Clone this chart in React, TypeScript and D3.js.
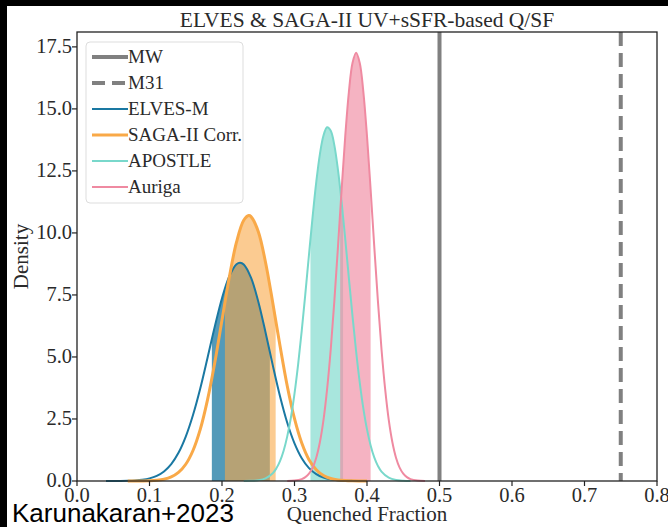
import React from "react";
import * as d3 from "d3";

// density curves (x = quenched fraction, y = density)
const elvesX = [0.04, 0.05, 0.06, 0.07, 0.08, 0.09, 0.1, 0.11, 0.12, 0.13, 0.14, 0.15, 0.16, 0.17, 0.18, 0.19, 0.2, 0.21, 0.22, 0.225, 0.23, 0.24, 0.25, 0.26, 0.27, 0.28, 0.29, 0.3, 0.31, 0.32, 0.33, 0.34, 0.35, 0.36, 0.37, 0.38, 0.4];
const elvesY = [0.0005, 0.0015, 0.004, 0.01, 0.023, 0.05, 0.105, 0.207, 0.386, 0.68, 1.135, 1.79, 2.66, 3.73, 4.96, 6.22, 7.37, 8.25, 8.74, 8.8, 8.73, 8.2, 7.24, 6.0, 4.67, 3.42, 2.35, 1.52, 0.92, 0.52, 0.28, 0.14, 0.067, 0.03, 0.012, 0.005, 0.001];

const sagaX = [0.07, 0.08, 0.09, 0.1, 0.11, 0.12, 0.13, 0.14, 0.15, 0.16, 0.17, 0.18, 0.19, 0.2, 0.21, 0.22, 0.23, 0.237, 0.24, 0.25, 0.26, 0.27, 0.28, 0.29, 0.3, 0.31, 0.32, 0.33, 0.34, 0.35, 0.36, 0.37, 0.38, 0.39, 0.4];
const sagaY = [0.0004, 0.0013, 0.004, 0.011, 0.03, 0.072, 0.164, 0.345, 0.675, 1.23, 2.08, 3.27, 4.77, 6.49, 8.2, 9.63, 10.51, 10.7, 10.66, 10.06, 8.82, 7.19, 5.45, 3.83, 2.51, 1.53, 0.86, 0.455, 0.22, 0.1, 0.043, 0.017, 0.006, 0.002, 0.0007];

const apostleX = [0.23, 0.24, 0.25, 0.26, 0.27, 0.275, 0.28, 0.285, 0.29, 0.295, 0.3, 0.305, 0.31, 0.315, 0.32, 0.325, 0.33, 0.335, 0.34, 0.345, 0.35, 0.355, 0.36, 0.365, 0.37, 0.375, 0.38, 0.385, 0.39, 0.395, 0.4, 0.405, 0.41, 0.415, 0.42, 0.43, 0.44, 0.45, 0.46];
const apostleY = [0.002, 0.008, 0.032, 0.107, 0.314, 0.51, 0.8, 1.22, 1.8, 2.55, 3.52, 4.7, 6.06, 7.56, 9.13, 10.66, 12.05, 13.17, 13.93, 14.26, 14.12, 13.53, 12.53, 11.24, 9.75, 8.18, 6.65, 5.22, 3.97, 2.92, 2.08, 1.43, 0.95, 0.61, 0.38, 0.134, 0.041, 0.011, 0.003];

const aurigaX = [0.29, 0.3, 0.31, 0.315, 0.32, 0.325, 0.33, 0.335, 0.34, 0.345, 0.35, 0.355, 0.36, 0.365, 0.37, 0.375, 0.38, 0.385, 0.39, 0.395, 0.4, 0.405, 0.41, 0.415, 0.42, 0.425, 0.43, 0.435, 0.44, 0.445, 0.45, 0.455, 0.46, 0.47, 0.48];
const aurigaY = [0.003, 0.017, 0.077, 0.156, 0.297, 0.54, 0.94, 1.56, 2.46, 3.71, 5.31, 7.27, 9.46, 11.75, 13.9, 15.68, 16.85, 17.26, 16.85, 15.68, 13.9, 11.75, 9.46, 7.27, 5.31, 3.71, 2.46, 1.56, 0.94, 0.54, 0.297, 0.156, 0.077, 0.017, 0.003];

// shaded intervals
const elvesBand = [0.186, 0.266];
const sagaBand = [0.204, 0.274];
const apostleBand = [0.322, 0.367];
const aurigaBand = [0.363, 0.405];

const mwValue = 0.5;
const m31Value = 0.75;

const xTicks = [0, 0.1, 0.2, 0.3, 0.4, 0.5, 0.6, 0.7, 0.8];
const yTicks = [0, 2.5, 5, 7.5, 10, 12.5, 15, 17.5];

const series = [
  { name: "ELVES-M", xs: elvesX, ys: elvesY, band: elvesBand, line: "#1a78a2", fill: "#1a78a2", op: 0.75, w: 2 },
  { name: "SAGA-II Corr.", xs: sagaX, ys: sagaY, band: sagaBand, line: "#f9a948", fill: "#f9a948", op: 0.6, w: 3 },
  { name: "APOSTLE", xs: apostleX, ys: apostleY, band: apostleBand, line: "#79d8cb", fill: "#79d8cb", op: 0.65, w: 2 },
  { name: "Auriga", xs: aurigaX, ys: aurigaY, band: aurigaBand, line: "#ef8aa1", fill: "#ef8aa1", op: 0.65, w: 2 },
];

const W = 668, H = 527;
const left = 77, right = 657, top = 32, bottom = 481;
const serif = "'Liberation Serif', 'DejaVu Serif', serif";
const ink = "#2a2a2a";

export default function App() {
  const x = d3.scaleLinear().domain([0, 0.8]).range([left, right]);
  const y = d3.scaleLinear().domain([0, 18.1]).range([bottom, top]);

  const line = d3.line<[number, number]>().x(d => x(d[0])).y(d => y(d[1])).curve(d3.curveCatmullRom);
  const area = d3.area<[number, number]>().x(d => x(d[0])).y0(y(0)).y1(d => y(d[1])).curve(d3.curveCatmullRom);

  const legendItems = [
    { name: "MW", color: "#808080", w: 4, dash: "" },
    { name: "M31", color: "#808080", w: 4, dash: "13,7" },
    ...series.map(s => ({ name: s.name, color: s.line, w: s.w, dash: "" })),
  ];

  return (
    <svg width={W} height={H} style={{ position: "absolute", left: 0, top: 0, background: "#fff" }}>
      <defs>
        {series.map((s, i) => (
          <clipPath id={"band" + i} key={i}>
            <rect x={x(s.band[0])} y={top} width={x(s.band[1]) - x(s.band[0])} height={bottom - top} />
          </clipPath>
        ))}
      </defs>
      <rect x={0} y={0} width={W} height={6} fill="#000" />
      <rect x={0} y={0} width={7} height={H} fill="#000" />

      <text x={(left + right) / 2} y={27} textAnchor="middle" fontFamily={serif} fontSize={21.5} fill={ink}>
        ELVES &amp; SAGA-II UV+sSFR-based Q/SF
      </text>

      {/* shaded intervals */}
      {series.map((s, i) => {
        const pts = s.xs.map((v, j) => [v, s.ys[j]] as [number, number]);
        return <path key={i} d={area(pts) || ""} fill={s.fill} fillOpacity={s.op} clipPath={`url(#band${i})`} />;
      })}
      {/* curves */}
      {series.map((s, i) => {
        const pts = s.xs.map((v, j) => [v, s.ys[j]] as [number, number]);
        return <path key={i} d={line(pts) || ""} fill="none" stroke={s.line} strokeWidth={s.w} />;
      })}

      <line x1={x(mwValue)} x2={x(mwValue)} y1={top} y2={bottom} stroke="#808080" strokeWidth={4} />
      <line x1={x(m31Value)} x2={x(m31Value)} y1={top} y2={bottom} stroke="#808080" strokeWidth={4} strokeDasharray="14,7" />

      {/* frame */}
      <rect x={left} y={top} width={right - left} height={bottom - top} fill="none" stroke="#222" strokeWidth={1.3} />

      {xTicks.map(t => (
        <g key={"x" + t}>
          <line x1={x(t)} x2={x(t)} y1={bottom} y2={bottom + 5} stroke="#222" strokeWidth={1.2} />
          <text x={x(t)} y={bottom + 21} textAnchor="middle" fontFamily={serif} fontSize={20.5} fill={ink}>
            {t.toFixed(1)}
          </text>
        </g>
      ))}
      {yTicks.map(t => (
        <g key={"y" + t}>
          <line x1={left - 5} x2={left} y1={y(t)} y2={y(t)} stroke="#222" strokeWidth={1.2} />
          <text x={left - 5} y={y(t) + 6} textAnchor="end" fontFamily={serif} fontSize={20.5} fill={ink}>
            {t.toFixed(1)}
          </text>
        </g>
      ))}

      <text transform={`translate(28,${(top + bottom) / 2}) rotate(-90)`} textAnchor="middle" fontFamily={serif} fontSize={21} fill={ink}>
        Density
      </text>
      <text x={(left + right) / 2} y={521} textAnchor="middle" fontFamily={serif} fontSize={21} fill={ink}>
        Quenched Fraction
      </text>
      <text x={12} y={522} fontFamily="'Liberation Sans', Arial, sans-serif" fontSize={26} fill="#000">
        Karunakaran+2023
      </text>

      {/* legend */}
      <rect x={86} y={42} width={157} height={161} rx={4} fill="#fff" fillOpacity={0.8} stroke="#ddd" strokeWidth={1} />
      {legendItems.map((it, i) => {
        const ly = 57 + i * 26;
        return (
          <g key={it.name}>
            <line x1={92} x2={128} y1={ly} y2={ly} stroke={it.color} strokeWidth={it.w} strokeDasharray={it.dash} />
            <text x={128} y={ly + 6} fontFamily={serif} fontSize={19} fill={ink}>{it.name}</text>
          </g>
        );
      })}
    </svg>
  );
}
